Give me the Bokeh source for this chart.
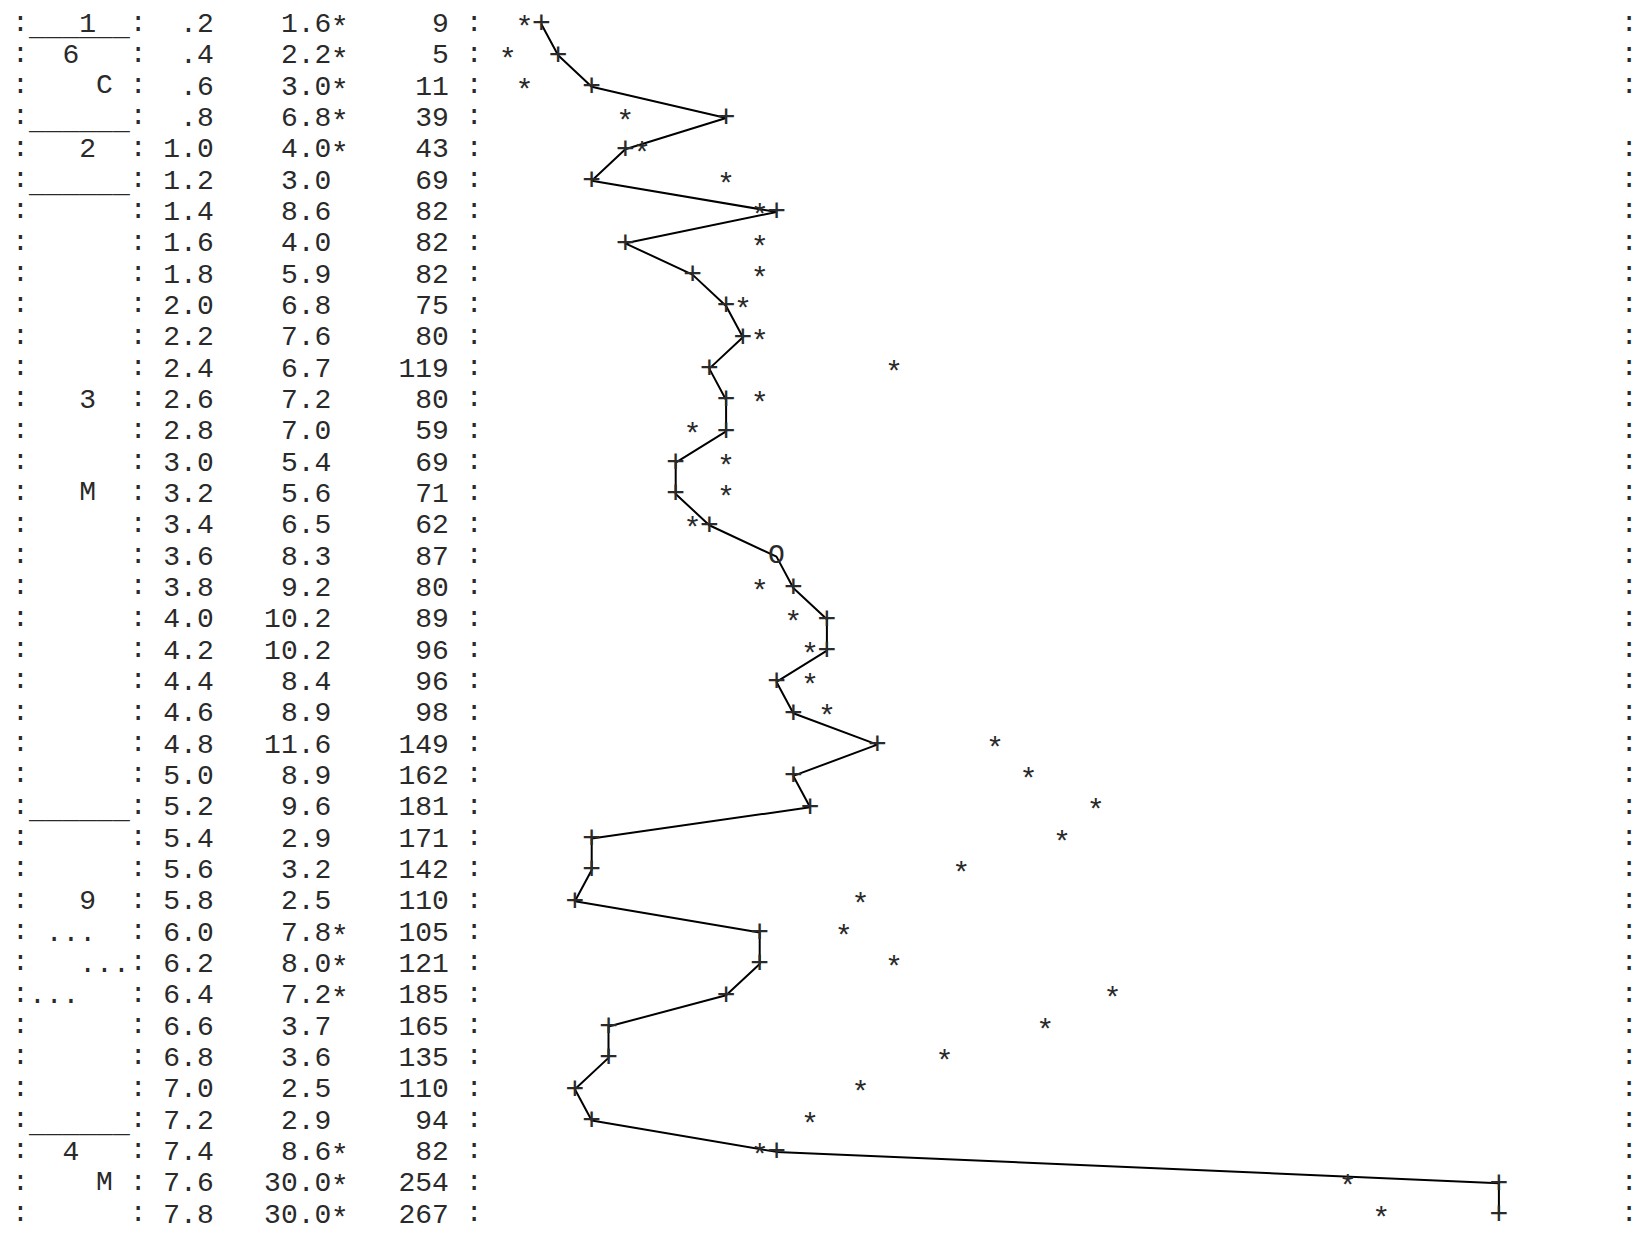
from bokeh.plotting import figure
from bokeh.models import Range1d, ColumnDataSource
from bokeh.core.properties import value
from bokeh.embed import file_html
from bokeh.resources import INLINE

depths = [0.2, 0.4, 0.6, 0.8, 1.0, 1.2, 1.4, 1.6, 1.8, 2.0,
          2.2, 2.4, 2.6, 2.8, 3.0, 3.2, 3.4, 3.6, 3.8, 4.0,
          4.2, 4.4, 4.6, 4.8, 5.0, 5.2, 5.4, 5.6, 5.8, 6.0,
          6.2, 6.4, 6.6, 6.8, 7.0, 7.2, 7.4, 7.6, 7.8]
values = [1.6, 2.2, 3.0, 6.8, 4.0, 3.0, 8.6, 4.0, 5.9, 6.8,
          7.6, 6.7, 7.2, 7.0, 5.4, 5.6, 6.5, 8.3, 9.2, 10.2,
          10.2, 8.4, 8.9, 11.6, 8.9, 9.6, 2.9, 3.2, 2.5, 7.8,
          8.0, 7.2, 3.7, 3.6, 2.5, 2.9, 8.6, 30.0, 30.0]
flagged_depths = [0.2, 0.4, 0.6, 0.8, 1.0, 6.0, 6.2, 6.4, 7.4, 7.6, 7.8]
counts = [9, 5, 11, 39, 43, 69, 82, 82, 82, 75,
          80, 119, 80, 59, 69, 71, 62, 87, 80, 89,
          96, 96, 98, 149, 162, 181, 171, 142, 110, 105,
          121, 185, 165, 135, 110, 94, 82, 254, 267]

# unit column: label fields (6 characters wide) and unit boundaries
label_depths = [0.2, 0.4, 0.6, 1.0, 2.6, 3.2, 5.8, 6.0, 6.2, 6.4, 7.4, 7.6]
label_fields = ["   1  ", "  6   ", "    C ", "   2  ", "   3  ", "   M  ",
                "   9  ", " ...  ", "   ...", "...   ", "  4   ", "    M "]
boundary_depths = [0.2, 0.8, 1.2, 5.2, 7.2]
open_frame_depths = [0.8]

# ---------------- layout of the line-printer grid ----------------
W, H = 1638, 1240
FONT = value("Liberation Mono")
FSIZE = "28px"
STAR_SIZE = "30px"
PLUS_SIZE = "32px"
COL_PX = 16.8            # character advance
X0 = 20.0                # screen x of column 0 centre
PLOT_COL0 = 28           # column of value 0 in the plot area
COLS_PER_UNIT = 2        # plot: 2 columns per value unit, 1 column per 5 counts
ROW_PX = 31.33
STEP = 0.2
FIRST_Y = 23.5           # screen y of first row's marker centre
TXT_OFF = -1.0           # text offset so that glyph centres sit on the row
STAR_OFF = 5.2           # asterisks are raised glyphs: pull them down
PLUS_OFF = -1.2
UNDER_OFF = 4.5          # extra drop of the boundary underscores
INK = "#2a2a2a"

px_per_depth = ROW_PX / STEP
px_per_unit = COL_PX * COLS_PER_UNIT
y_top = depths[0] - FIRST_Y / px_per_depth
y_bot = y_top + H / px_per_depth
x_start = ((0 - X0) / COL_PX - PLOT_COL0) / COLS_PER_UNIT
x_end = ((W - X0) / COL_PX - PLOT_COL0) / COLS_PER_UNIT
frame_x = x_end - 1.0 / px_per_unit      # right frame, 1px inside the edge


def col_x(c):
    return (c - PLOT_COL0) / COLS_PER_UNIT


p = figure(width=W, height=H, output_backend="svg", toolbar_location=None,
           x_range=Range1d(x_start, x_end), y_range=Range1d(y_bot, y_top),
           x_axis_location=None, y_axis_location=None, min_border=0)
p.extra_x_ranges = {"count": Range1d(x_start * 10, x_end * 10)}
p.grid.visible = False
p.outline_line_color = None
p.background_fill_color = "white"
p.border_fill_color = "white"

txt = dict(text_font=FONT, text_font_size=FSIZE, text_baseline="alphabetic",
           y_offset=TXT_OFF, text_color=INK)
star_txt = dict(txt, text_font_size=STAR_SIZE, y_offset=STAR_OFF)
plus_txt = dict(txt, text_font_size=PLUS_SIZE, y_offset=PLUS_OFF)

# ---- table part ----
table = ColumnDataSource(dict(
    depth=depths,
    dtxt=[("%.1f" % d).lstrip("0") for d in depths],
    vtxt=["%.1f" % v for v in values],
    ctxt=["%d" % c for c in counts],
))
p.text(x=col_x(-0.5), y="depth", text=value(":"), source=table, text_align="left", **txt)
p.text(x=col_x(6.5), y="depth", text=value(":"), source=table, text_align="left", **txt)
p.text(x=col_x(11.5), y="depth", text="dtxt", source=table, text_align="right", **txt)
p.text(x=col_x(18.5), y="depth", text="vtxt", source=table, text_align="right", **txt)
p.text(x=col_x(25.5), y="depth", text="ctxt", source=table, text_align="right", **txt)
p.text(x=col_x(26.5), y="depth", text=value(":"), source=table, text_align="left", **txt)

flag_src = ColumnDataSource(dict(depth=flagged_depths))
p.text(x=col_x(19), y="depth", text=value("*"), source=flag_src, text_align="center", **star_txt)

frame = ColumnDataSource(dict(depth=[d for d in depths if d not in open_frame_depths]))
p.text(x=frame_x, y="depth", text=value(":"), source=frame, text_align="right", **txt)

# unit labels
lab = ColumnDataSource(dict(
    depth=label_depths,
    x=[col_x(0.5 + len(f) - len(f.lstrip(" "))) for f in label_fields],
    t=[f.strip() for f in label_fields],
))
p.text(x="x", y="depth", text="t", source=lab, text_align="left", **txt)
bnd = ColumnDataSource(dict(depth=boundary_depths))
utxt = dict(txt, y_offset=TXT_OFF + UNDER_OFF)
p.text(x=col_x(0.5), y="depth", text=value("______"), source=bnd, text_align="left", **utxt)

# ---- plot part (character grid: snapped to printer columns) ----
pcol = [int(v * COLS_PER_UNIT + 0.5) for v in values]
scol = [int(c / 5 + 0.5) for c in counts]
plus_x = [c / COLS_PER_UNIT for c in pcol]
star_x = [c * 5 for c in scol]
both = [a == b for a, b in zip(pcol, scol)]

p.line(x=plus_x, y=depths, line_color="black", line_width=2)

plus_src = ColumnDataSource(dict(x=[x for x, o in zip(plus_x, both) if not o],
                                 depth=[d for d, o in zip(depths, both) if not o]))
star_src = ColumnDataSource(dict(x=[x for x, o in zip(star_x, both) if not o],
                                 depth=[d for d, o in zip(depths, both) if not o]))
both_src = ColumnDataSource(dict(x=[x for x, o in zip(plus_x, both) if o],
                                 depth=[d for d, o in zip(depths, both) if o]))
p.text(x="x", y="depth", text=value("+"), source=plus_src, text_align="center", **plus_txt)
p.text(x="x", y="depth", text=value("*"), source=star_src, text_align="center",
       x_range_name="count", **star_txt)
p.text(x="x", y="depth", text=value("O"), source=both_src, text_align="center", **txt)

open("out.html", "w").write(file_html(p, INLINE))
